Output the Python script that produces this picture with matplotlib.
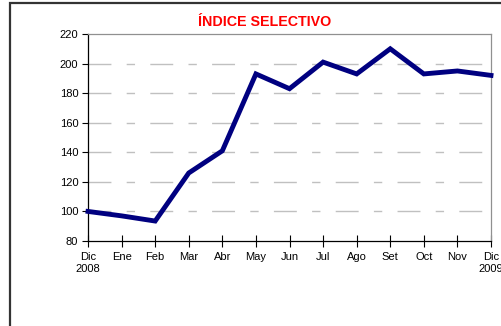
import matplotlib
matplotlib.use("Agg")
import matplotlib.pyplot as plt
from matplotlib.patches import Rectangle

plt.rcParams['font.family'] = ['Liberation Sans', 'DejaVu Sans']

months = ["Dic\n2008", "Ene", "Feb", "Mar", "Abr", "May", "Jun",
          "Jul", "Ago", "Set", "Oct", "Nov", "Dic\n2009"]
index_values = [100, 97, 93.5, 126, 141, 193, 183, 201, 193, 210, 193, 195, 192]
y_ticks = [80, 100, 120, 140, 160, 180, 200, 220]

W, H = 501, 326
fig = plt.figure(figsize=(W / 100, H / 100), dpi=100)
fig.patch.set_facecolor("white")

# outer chart frame (left and top edges visible)
frame = Rectangle((9.5 / W, -0.1), 1.2, (H - 2.5) / H + 0.1,
                  transform=fig.transFigure, fill=False,
                  edgecolor="#333333", linewidth=1.6, clip_on=False)
fig.patches.append(frame)

ax = fig.add_axes([88 / W, 1 - 241 / H, (491 - 88) / W, (241 - 34) / H])
x = list(range(len(months)))

for yv in y_ticks[1:-1]:
    ax.axhline(yv, color="#c0c0c0", linewidth=1.0,
               dashes=(16.5, 11, 6, 11), zorder=1)

ax.plot(x, index_values, color="#000080", linewidth=3.5,
        solid_joinstyle="miter", zorder=3, clip_on=False)

ax.set_xlim(0, len(months) - 1)
ax.set_ylim(80, 220)
ax.set_xticks(x)
ax.set_xticklabels(months, fontsize=8, linespacing=1.25)
ax.set_yticks(y_ticks)
ax.set_yticklabels([str(v) for v in y_ticks], fontsize=8)

ax.tick_params(axis="x", direction="inout", length=8, width=0.8, pad=4)
ax.tick_params(axis="y", direction="out", length=4, width=0.8, pad=3)

ax.spines["left"].set_color("black")
ax.spines["bottom"].set_color("black")
ax.spines["left"].set_linewidth(0.9)
ax.spines["bottom"].set_linewidth(0.9)
ax.spines["top"].set_color("#909090")
ax.spines["right"].set_color("#909090")
ax.spines["top"].set_linewidth(0.9)
ax.spines["right"].set_linewidth(0.9)

fig.text(264.5 / W, 1 - 22.5 / H, "ÍNDICE SELECTIVO", color="#ff0000",
         fontsize=10.3, fontweight="bold", ha="center", va="center")

fig.savefig("out.png", dpi=100)
